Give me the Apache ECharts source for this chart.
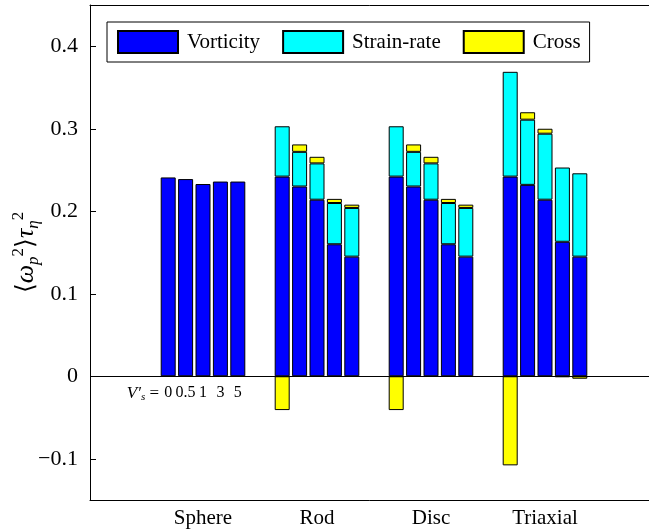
<!DOCTYPE html>
<html>
<head>
<meta charset="utf-8">
<script src="https://cdn.jsdelivr.net/npm/echarts@6/dist/echarts.min.js"></script>
<style>
html, body { margin: 0; padding: 0; background: #fff; }
#chart { width: 649px; height: 532px; }
</style>
</head>
<body>
<div id="chart"></div>
<script>
var shapes = ['Sphere', 'Rod', 'Disc', 'Triaxial'];
var vsLabels = ['0', '0.5', '1', '3', '5'];
var yTicks = [-0.1, 0, 0.1, 0.2, 0.3, 0.4];

// rows = shape, columns = V's
var vorticity = [
  [0.241, 0.239, 0.233, 0.236, 0.236],
  [0.242, 0.230, 0.214, 0.160, 0.145],
  [0.242, 0.230, 0.214, 0.160, 0.145],
  [0.242, 0.232, 0.214, 0.163, 0.145]
];
var strainRate = [
  [null, null, null, null, null],
  [0.061, 0.042, 0.044, 0.050, 0.059],
  [0.061, 0.042, 0.044, 0.050, 0.059],
  [0.127, 0.079, 0.080, 0.090, 0.101]
];
var cross = [
  [null, null, null, null, null],
  [-0.041, 0.009, 0.008, 0.005, 0.004],
  [-0.041, 0.009, 0.008, 0.005, 0.004],
  [-0.108, 0.009, 0.006, -0.001, -0.003]
];

var font = 'Liberation Serif';
var parts = [
  { name: 'Vorticity', color: '#0000ff', values: vorticity },
  { name: 'Strain-rate', color: '#00ffff', values: strainRate },
  { name: 'Cross', color: '#ffff00', values: cross }
];

var series = [];
vsLabels.forEach(function (vs, j) {
  parts.forEach(function (p, k) {
    var data = shapes.map(function (s, i) {
      var v = p.values[i][j];
      var item = { value: v == null ? '-' : v };
      if (k === 0 && i === 0) {
        item.label = {
          show: true, position: 'bottom', distance: 9, formatter: vs,
          fontFamily: font, fontSize: 16, color: '#000'
        };
      }
      return item;
    });
    series.push({
      name: p.name,
      type: 'bar',
      xAxisIndex: 0, yAxisIndex: 0,
      stack: 'v' + j,
      barWidth: 15,
      barGap: '16%',
      itemStyle: { color: p.color, borderColor: '#000', borderWidth: 1 },
      data: data
    });
  });
});

// frame grid carries the baseline at zero
series.push({
  type: 'line', xAxisIndex: 2, yAxisIndex: 1, data: [],
  markLine: {
    silent: true, symbol: 'none', label: { show: false },
    lineStyle: { color: '#000', width: 1, type: 'solid' },
    data: [{ yAxis: 0 }]
  }
});

var chart = echarts.init(document.getElementById('chart'));
chart.setOption({
  animation: false,
  legend: {
    data: ['Vorticity', 'Strain-rate', 'Cross'],
    left: 107, top: 22,
    padding: [8, 9, 8, 10],
    itemWidth: 60, itemHeight: 22, itemGap: 22,
    borderColor: '#000', borderWidth: 1,
    backgroundColor: '#fff',
    icon: 'rect',
    textStyle: { fontFamily: font, fontSize: 21, color: '#000', padding: [0, 0, 0, 4] }
  },
  grid: [
    { left: 146, right: 47, top: 5, bottom: 32, outerBoundsMode: 'none', containLabel: false },
    { left: 90, right: -11, top: 5, bottom: 32, outerBoundsMode: 'none', containLabel: false }
  ],
  xAxis: [{
    type: 'category', gridIndex: 0, data: shapes,
    axisLine: { show: false },
    axisTick: { inside: true, length: 5, alignWithLabel: true, lineStyle: { color: '#000' } },
    axisLabel: { fontFamily: font, fontSize: 21, color: '#000', margin: 8 },
    splitLine: { show: false }
  }, {
    type: 'category', gridIndex: 0, data: shapes, position: 'top',
    axisLine: { show: false },
    axisTick: { inside: true, length: 5, alignWithLabel: true, lineStyle: { color: '#000' } },
    axisLabel: { show: false },
    splitLine: { show: false }
  }, {
    type: 'value', gridIndex: 1, min: 0, max: 5,
    axisLine: { show: true, onZero: false, lineStyle: { color: '#000' } },
    axisTick: { show: false }, axisLabel: { show: false },
    splitLine: { show: false }
  }, {
    type: 'value', gridIndex: 1, min: 0, max: 5, position: 'top',
    axisLine: { show: true, onZero: false, lineStyle: { color: '#000' } },
    axisTick: { show: false }, axisLabel: { show: false },
    splitLine: { show: false }
  }],
  yAxis: [{
    type: 'value', gridIndex: 0, min: -0.15, max: 0.45, show: false
  }, {
    type: 'value', gridIndex: 1, min: -0.15, max: 0.45,
    name: '\u27e8{w|\u03c9}{s|p}{u|2}\u27e9{w|\u03c4}{s|\u03b7}{u|2}',
    nameLocation: 'middle', nameGap: 48,
    nameMoveOverlap: false,
    nameTextStyle: {
      fontFamily: font, fontSize: 25, color: '#000',
      rich: {
        w: { fontFamily: font, fontSize: 26, fontStyle: 'italic', lineHeight: 32 },
        s: { fontFamily: font, fontSize: 17, fontStyle: 'italic', verticalAlign: 'bottom', lineHeight: 32 },
        u: { fontFamily: font, fontSize: 17, verticalAlign: 'top', lineHeight: 32 }
      }
    },
    axisLine: { show: true, onZero: false, lineStyle: { color: '#000' } },
    axisTick: { inside: true, length: 6, lineStyle: { color: '#000' }, customValues: yTicks },
    axisLabel: {
      customValues: yTicks,
      formatter: function (v) {
        if (Math.abs(v) < 1e-9) return '0';
        return (v < 0 ? '\u2212' : '') + Math.abs(v).toFixed(1);
      },
      fontFamily: font, fontSize: 22, color: '#000', margin: 12
    },
    splitLine: { show: false }
  }],
  series: series
});

var p0 = chart.convertToPixel({ xAxisIndex: 0, yAxisIndex: 0 }, ['Sphere', 0]);
chart.setOption({
  graphic: [{
    type: 'text',
    x: p0[0] - 44, y: p0[1] + 17,
    style: {
      text: '{i|V\u2032}{s|s} =',
      align: 'right', verticalAlign: 'middle',
      fill: '#000',
      font: '17px ' + font,
      rich: {
        i: { fontFamily: font, fontSize: 17, fontStyle: 'italic' },
        s: { fontFamily: font, fontSize: 11, fontStyle: 'italic', padding: [8, 0, 0, 0] }
      }
    }
  }]
});
</script>
</body>
</html>
